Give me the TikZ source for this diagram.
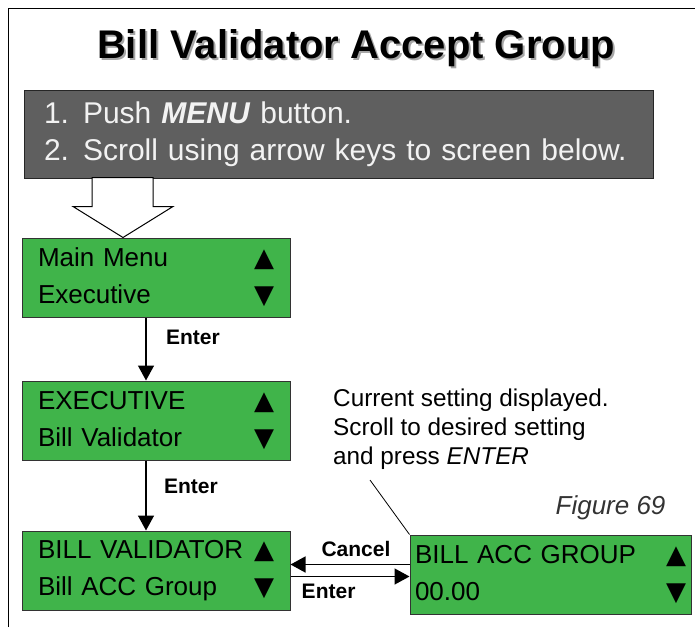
\documentclass[tikz,border=0pt]{standalone}
\usepackage{fontspec}
\setmainfont{Liberation Sans}
\newfontfamily\symfont{DejaVu Sans}
\usetikzlibrary{arrows.meta, positioning, calc}
\definecolor{lcdGreen}{HTML}{40B44A}
\definecolor{stepGray}{HTML}{5F5F5F}
\newcommand{\arrUp}{{\symfont ▲}}
\newcommand{\arrDn}{{\symfont ▼}}

\begin{document}
\begin{tikzpicture}[x=1pt, y=-1pt,
        lcd/.style={draw=black!80, fill=lcdGreen, line width=1pt, minimum width=268pt,
            minimum height=79pt, text width=236pt, inner xsep=16pt, align=left,
            font=\fontsize{26}{37}\selectfont},
        flow/.style={-{Triangle[length=15pt,width=16pt]}, line width=1.4pt},
        lbl/.style={font=\bfseries\fontsize{21}{24}\selectfont}
    ]
        \useasboundingbox (0,0) rectangle (695,627);
        \draw[line width=1pt] (8,627) -- (8,8) -- (695,8);
        \node[text=black!35, font=\bfseries\fontsize{40}{48}\selectfont] at (358,50) {Bill Validator Accept Group};
        \node[font=\bfseries\fontsize{40}{48}\selectfont] (title) at (356,48) {Bill Validator Accept Group};
        \node[draw=black!85, fill=stepGray, text=white!95!black, line width=1pt, minimum width=629pt,
            minimum height=88pt, text width=609pt, inner xsep=10pt, align=left,
            font=\fontsize{30}{37}\selectfont] (steps) at (338.5,134)
            {\hspace*{10pt}\makebox[39pt][l]{1.}Push \textbf{\textit{MENU}} button.\\\hspace*{10pt}\makebox[39pt][l]{2.}Scroll using arrow keys to screen below.};
        \node[lcd] (mainmenu) at (156,277.5) {Main Menu\hfill\arrUp\\Executive\hfill\arrDn};
        \node[lcd, below=63pt of mainmenu] (exec) {EXECUTIVE\hfill\arrUp\\Bill Validator\hfill\arrDn};
        \node[lcd, below=70pt of exec] (billval) {BILL VALIDATOR\hfill\arrUp\\Bill ACC Group\hfill\arrDn};
        \node[lcd, minimum width=281pt, text width=271pt, inner xsep=5pt, right=119pt of billval, yshift=-4pt] (billacc)
            {BILL ACC GROUP\hfill\arrUp\\00.00\hfill\arrDn};
        \node[font=\fontsize{24.3}{29}\selectfont, align=left, anchor=north west, inner sep=0pt] (note) at (333,389)
            {Current setting displayed.\\Scroll to desired setting\\and press \textit{ENTER}};
        \node[font=\itshape\fontsize{26}{30}\selectfont, text=black!80, anchor=east] (fig) at (669,508) {Figure 69};
        % block arrow from the steps box
        \coordinate (tip) at ([xshift=-33pt]mainmenu.north);
        \draw[fill=white, line width=1pt] (tip) -- ++(50,-31) -- ++(-20,0) -- ++(0,-29) -- ++(-61,0) -- ++(0,29) -- ++(-19,0) -- cycle;
        \draw[flow] ([xshift=-10pt]mainmenu.south) -- ([xshift=-10pt]exec.north) node[lbl, pos=0.32, right=16pt] {Enter};
        \draw[flow] ([xshift=-10pt]exec.south) -- ([xshift=-10pt]billval.north) node[lbl, pos=0.37, right=14pt] {Enter};
        \draw[flow] ([yshift=10pt]billacc.west) -- ([yshift=10pt]billacc.west -| billval.east) node[lbl, pos=0.45, above=4pt] {Cancel};
        \draw[flow] ([yshift=-2pt]billacc.west -| billval.east) -- ([yshift=-2pt]billacc.west) node[lbl, pos=0.32, below=4pt] {Enter};
        \coordinate (lead) at (370,480);
        \draw[line width=0.8pt] (lead) -- (billacc.north west);
    \end{tikzpicture}
\end{document}
